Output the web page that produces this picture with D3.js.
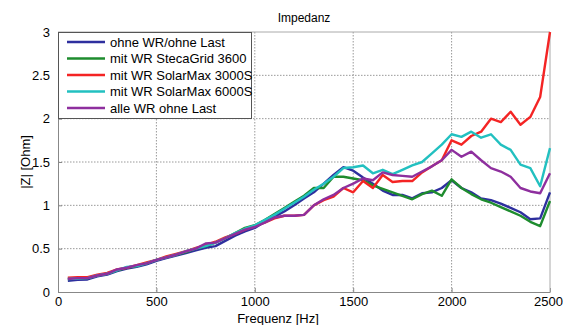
<!DOCTYPE html>
<html>
<meta charset="utf-8">
<title>Impedanz</title>
<style>
	body { margin: 0; background: #fff; }
	text { font-family: "Liberation Sans", Arial, sans-serif; fill: #000; }
	.grid line { stroke: #999; stroke-dasharray: 1.5 1.5; stroke-width: 1; }
	.series { fill: none; stroke-width: 2.4; stroke-linejoin: round; }
</style>
<body>
<script src="https://cdnjs.cloudflare.com/ajax/libs/d3/7.8.5/d3.min.js"></script>
<script>
	// frequencies [Hz]
	var freq = [50, 100, 150, 200, 250, 300, 350, 400, 450, 500,
		550, 600, 650, 700, 750, 800, 850, 900, 950, 1000,
		1050, 1100, 1150, 1200, 1250, 1300, 1350, 1400, 1450, 1500,
		1550, 1600, 1650, 1700, 1750, 1800, 1850, 1900, 1950, 2000,
		2050, 2100, 2150, 2200, 2250, 2300, 2350, 2400, 2450, 2500];

	var ohneWR = [0.13, 0.14, 0.145, 0.18, 0.2, 0.24, 0.27, 0.29, 0.32, 0.36,
		0.39, 0.42, 0.45, 0.48, 0.51, 0.53, 0.59, 0.65, 0.7, 0.74,
		0.81, 0.87, 0.93, 1.0, 1.08, 1.15, 1.25, 1.35, 1.44, 1.4,
		1.32, 1.25, 1.17, 1.12, 1.12, 1.08, 1.14, 1.15, 1.2, 1.29,
		1.2, 1.15, 1.08, 1.06, 1.02, 0.97, 0.92, 0.84, 0.85, 1.15];

	var steca = [0.15, 0.16, 0.16, 0.19, 0.21, 0.25, 0.28, 0.3, 0.33, 0.37,
		0.4, 0.43, 0.46, 0.5, 0.53, 0.57, 0.62, 0.68, 0.74, 0.77,
		0.83, 0.9, 0.97, 1.04, 1.11, 1.2, 1.2, 1.33, 1.33, 1.31,
		1.29, 1.23, 1.19, 1.15, 1.11, 1.07, 1.13, 1.17, 1.11, 1.3,
		1.2, 1.13, 1.07, 1.03, 0.98, 0.93, 0.88, 0.81, 0.76, 1.05];

	var sm3000 = [0.165, 0.17, 0.17, 0.2, 0.22, 0.26, 0.28, 0.31, 0.34, 0.37,
		0.41, 0.44, 0.47, 0.51, 0.54, 0.58, 0.63, 0.67, 0.72, 0.76,
		0.8, 0.85, 0.88, 0.88, 0.89, 1.0, 1.06, 1.1, 1.2, 1.15,
		1.28, 1.2, 1.35, 1.27, 1.28, 1.28, 1.38, 1.45, 1.52, 1.75,
		1.7, 1.8, 1.85, 2.0, 1.96, 2.08, 1.93, 2.02, 2.25, 3.0];

	var sm6000 = [0.15, 0.155, 0.16, 0.19, 0.21, 0.25, 0.29, 0.3, 0.33, 0.37,
		0.4, 0.43, 0.47, 0.5, 0.53, 0.57, 0.62, 0.68, 0.73, 0.77,
		0.83, 0.89, 0.96, 1.03, 1.1, 1.18, 1.25, 1.33, 1.43, 1.44,
		1.46, 1.37, 1.41, 1.36, 1.41, 1.46, 1.5, 1.6, 1.7, 1.82,
		1.79, 1.85, 1.78, 1.82, 1.7, 1.64, 1.47, 1.43, 1.22, 1.66];

	var alleWR = [0.15, 0.16, 0.16, 0.19, 0.21, 0.26, 0.28, 0.31, 0.33, 0.37,
		0.4, 0.43, 0.47, 0.5, 0.56, 0.57, 0.62, 0.67, 0.72, 0.75,
		0.8, 0.86, 0.88, 0.88, 0.89, 1.0, 1.07, 1.12, 1.2, 1.25,
		1.31, 1.29, 1.38, 1.35, 1.34, 1.33, 1.39, 1.45, 1.52, 1.64,
		1.56, 1.62, 1.52, 1.43, 1.39, 1.33, 1.2, 1.16, 1.14, 1.37];

	var seriesNames = ["ohne WR/ohne Last", "mit WR StecaGrid 3600", "mit WR SolarMax 3000S",
		"mit WR SolarMax 6000S", "alle WR ohne Last"];
	var seriesColors = ["#2e2f9e", "#1e8c2e", "#f42424", "#22c0c0", "#8e2f9e"];
	var seriesValues = [ohneWR, steca, sm3000, sm6000, alleWR];

	var xTicks = [0, 500, 1000, 1500, 2000, 2500];
	var yTicks = [0, 0.5, 1, 1.5, 2, 2.5, 3];

	var margin = { top: 32, right: 13, bottom: 33, left: 58 },
		width = 563 - margin.left - margin.right,
		height = 325 - margin.top - margin.bottom;

	var svg = d3.select("body").append("svg")
		.attr("width", 563)
		.attr("height", 325);

	var g = svg.append("g")
		.attr("transform", "translate(" + margin.left + "," + margin.top + ")");

	var x = d3.scaleLinear().domain([0, 2500]).range([0, width]);
	var y = d3.scaleLinear().domain([0, 3]).range([height, 0]);

	// grid
	var grid = g.append("g").attr("class", "grid");
	grid.selectAll(".vx").data(xTicks.slice(1, -1)).enter().append("line")
		.attr("x1", function (d) { return x(d); })
		.attr("x2", function (d) { return x(d); })
		.attr("y1", 0).attr("y2", height);
	grid.selectAll(".hy").data(yTicks.slice(1, -1)).enter().append("line")
		.attr("y1", function (d) { return y(d); })
		.attr("y2", function (d) { return y(d); })
		.attr("x1", 0).attr("x2", width);

	// axes
	var xAxis = g.append("g")
		.attr("transform", "translate(0," + height + ")")
		.call(d3.axisBottom(x).tickValues(xTicks).tickSizeInner(-4).tickSizeOuter(0).tickPadding(5)
			.tickFormat(d3.format("d")));
	var yAxis = g.append("g")
		.call(d3.axisLeft(y).tickValues(yTicks).tickSizeInner(-4).tickSizeOuter(0).tickPadding(8)
			.tickFormat(d3.format("")));
	[xAxis, yAxis].forEach(function (a) {
		a.selectAll("path, line").attr("stroke", "#888");
		a.selectAll("text").style("font-size", "13px").attr("fill", "#000");
	});
	// keep the last x label inside the window
	xAxis.selectAll(".tick text").filter(function (d) { return d === 2500; }).attr("dx", "-2px");

	// box top/right
	g.append("line").attr("x1", 0).attr("x2", width).attr("y1", 0).attr("y2", 0).attr("stroke", "#aaa");
	g.append("line").attr("x1", width).attr("x2", width).attr("y1", 0).attr("y2", height).attr("stroke", "#aaa");

	// lines
	var line = d3.line()
		.x(function (d, i) { return x(freq[i]); })
		.y(function (d) { return y(d); });

	g.selectAll(".series").data(seriesValues).enter().append("path")
		.attr("class", "series")
		.attr("stroke", function (d, i) { return seriesColors[i]; })
		.attr("d", line);

	// legend
	var leg = g.append("g");
	leg.append("rect")
		.attr("x", 0.5).attr("y", 0.5)
		.attr("width", 193).attr("height", 86)
		.attr("fill", "#fff").attr("stroke", "#555");
	seriesNames.forEach(function (name, i) {
		var ly = 10 + i * 16.5;
		leg.append("line")
			.attr("x1", 9).attr("x2", 47).attr("y1", ly).attr("y2", ly)
			.attr("stroke", seriesColors[i]).attr("stroke-width", 2.4);
		leg.append("text")
			.attr("x", 52).attr("y", ly).attr("dy", "0.35em")
			.style("font-size", "13px")
			.text(name);
	});

	// labels
	svg.append("text")
		.attr("x", margin.left + width / 2).attr("y", 22)
		.attr("text-anchor", "middle")
		.style("font-size", "12px")
		.text("Impedanz");
	svg.append("text")
		.attr("x", margin.left + width / 2 - 26).attr("y", 323)
		.attr("text-anchor", "middle")
		.style("font-size", "13px")
		.text("Frequenz [Hz]");
	svg.append("text")
		.attr("transform", "translate(30," + (margin.top + height / 2) + ") rotate(-90)")
		.attr("text-anchor", "middle")
		.style("font-size", "13px")
		.text("|Z| [Ohm]");
</script>
</body>
</html>
